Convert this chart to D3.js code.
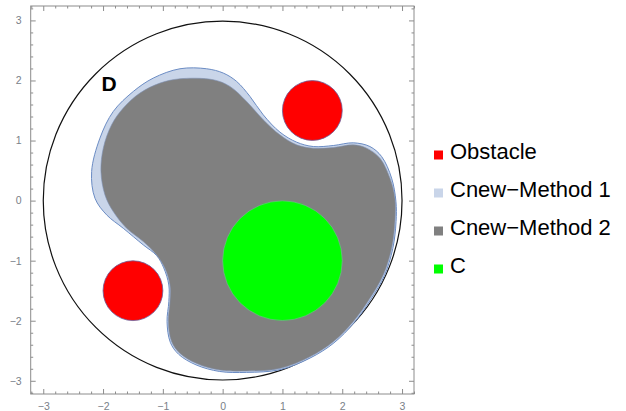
<!DOCTYPE html>
<html>
<head>
<meta charset="utf-8">
<script src="https://cdn.jsdelivr.net/npm/d3@7"></script>
<style>
  html, body { margin: 0; padding: 0; background: #fff; }
  svg { display: block; }
  text { font-family: "Liberation Sans", Arial, sans-serif; }
</style>
</head>
<body>
<svg id="chart" width="626" height="411"></svg>
<script>
// Domain D: disk centred at origin
const domainDisk = { cx: 0, cy: 0, r: 3 };

// Obstacles (discs)
const obstacles = [
  { cx: 1.5, cy: 1.5, r: 0.5 },
  { cx: -1.5, cy: -1.5, r: 0.5 }
];

// Initial configuration C
const regionC = { cx: 1, cy: -1, r: 1 };

// Boundary of Cnew computed with method 1
const cnewMethod1 = [
  [-0.714, 2.195], [-0.268, 2.195], [0.011, 2.123], [0.234, 1.984], [0.457, 1.734],
  [0.679, 1.428], [0.958, 1.140], [1.237, 0.973], [1.516, 0.900], [1.850, 0.917],
  [2.184, 0.962], [2.463, 0.900], [2.658, 0.734], [2.826, 0.373], [2.898, -0.016],
  [2.900, -0.350], [2.845, -0.800], [2.705, -1.250], [2.480, -1.640], [2.200, -2.030],
  [1.860, -2.370], [1.465, -2.620], [0.960, -2.815], [0.400, -2.860], [-0.050, -2.845],
  [-0.445, -2.735], [-0.735, -2.560], [-0.875, -2.360], [-0.930, -2.016], [-0.900, -1.683],
  [-0.900, -1.405], [-0.985, -1.120], [-1.104, -0.915], [-1.327, -0.738], [-1.662, -0.461],
  [-1.940, -0.238], [-2.135, 0.039], [-2.191, 0.484], [-2.052, 1.040], [-1.829, 1.484],
  [-1.494, 1.817], [-1.160, 2.040]
];

// Boundary of Cnew computed with method 2
const cnewMethod2 = [
  [-0.714, 2.028], [-0.157, 2.012], [0.122, 1.901], [0.401, 1.651], [0.679, 1.345],
  [0.958, 1.095], [1.237, 0.928], [1.516, 0.873], [1.850, 0.884], [2.184, 0.928],
  [2.408, 0.873], [2.630, 0.706], [2.798, 0.373], [2.881, 0.039], [2.881, -0.350],
  [2.826, -0.794], [2.686, -1.238], [2.463, -1.627], [2.184, -2.016], [1.850, -2.350],
  [1.460, -2.600], [0.958, -2.794], [0.401, -2.838], [-0.045, -2.822], [-0.435, -2.711],
  [-0.714, -2.544], [-0.853, -2.350], [-0.909, -2.016], [-0.881, -1.683], [-0.881, -1.405],
  [-0.965, -1.127], [-1.104, -0.905], [-1.327, -0.683], [-1.606, -0.461], [-1.829, -0.183],
  [-1.968, 0.095], [-2.035, 0.484], [-1.996, 0.873], [-1.857, 1.262], [-1.662, 1.540],
  [-1.383, 1.790], [-1.048, 1.956]
];

const majorTicks = [-3, -2, -1, 0, 1, 2, 3];
const legendLabels = ["Obstacle", "Cnew\u2212Method 1", "Cnew\u2212Method 2", "C"];
const legendColors = ["#ff0000", "#c9d5e9", "#808080", "#00ff00"];

const svg = d3.select("#chart");

const x = d3.scaleLinear().domain([-3.21, 3.2]).range([30.7, 414]);
const y = d3.scaleLinear().domain([-3.22, 3.24]).range([394, 6]);
const rpx = r => x(r) - x(0);

const plot = svg.append("g");

// Domain boundary
plot.append("circle")
  .attr("cx", x(domainDisk.cx)).attr("cy", y(domainDisk.cy)).attr("r", rpx(domainDisk.r))
  .attr("fill", "none").attr("stroke", "#111").attr("stroke-width", 1.2);

const shape = d3.line().x(d => x(d[0])).y(d => y(d[1])).curve(d3.curveCatmullRomClosed.alpha(0.5));

plot.append("path")
  .attr("d", shape(cnewMethod1))
  .attr("fill", legendColors[1]).attr("stroke", "#6b8cc4").attr("stroke-width", 1);

plot.append("path")
  .attr("d", shape(cnewMethod2))
  .attr("fill", legendColors[2]).attr("stroke", "#7d90b4").attr("stroke-width", 0.6);

plot.selectAll("circle.obstacle").data(obstacles).join("circle")
  .attr("class", "obstacle")
  .attr("cx", d => x(d.cx)).attr("cy", d => y(d.cy)).attr("r", d => rpx(d.r))
  .attr("fill", legendColors[0]).attr("stroke", "#6a5f9a").attr("stroke-width", 0.8);

plot.append("circle")
  .attr("cx", x(regionC.cx)).attr("cy", y(regionC.cy)).attr("r", rpx(regionC.r))
  .attr("fill", legendColors[3]).attr("stroke", "#7fb0a0").attr("stroke-width", 0.6);

plot.append("text")
  .attr("x", x(-1.9)).attr("y", y(1.82))
  .attr("text-anchor", "middle")
  .attr("font-size", 21).attr("font-weight", "bold").attr("fill", "#000")
  .text("D");

// Frame with inward ticks on all four sides
const frameColor = "#8c8c8c";
const minorTicks = d3.range(-32, 33, 2).map(v => v / 10).filter(v => !majorTicks.includes(v));
const axes = svg.append("g");

const fmt = v => (v < 0 ? "\u2212" + Math.abs(v) : String(v));

function tickAxis(axisGen, scale, transform, majorLen, labels) {
  const gMinor = axes.append("g").attr("transform", transform)
    .call(axisGen(scale).tickValues(minorTicks.filter(v => v >= scale.domain()[0] && v <= scale.domain()[1]))
      .tickSize(-2.5).tickFormat(""));
  gMinor.select(".domain").remove();
  gMinor.selectAll("line").attr("stroke", frameColor);
  const gMajor = axes.append("g").attr("transform", transform)
    .call(axisGen(scale).tickValues(majorTicks).tickSize(-5).tickPadding(labels ? 9 : 0)
      .tickFormat(labels ? fmt : ""));
  gMajor.select(".domain").remove();
  gMajor.selectAll("line").attr("stroke", frameColor);
  gMajor.selectAll("text").attr("fill", "#7a7f88").attr("font-size", 10.5)
    .attr("font-family", "'Liberation Sans', Arial, sans-serif");
}

tickAxis(d3.axisBottom, x, `translate(0,${y.range()[0]})`, 5, true);
tickAxis(d3.axisTop, x, `translate(0,${y.range()[1]})`, 5, false);
tickAxis(d3.axisLeft, y, `translate(${x.range()[0]},0)`, 5, true);
tickAxis(d3.axisRight, y, `translate(${x.range()[1]},0)`, 5, false);

axes.append("rect")
  .attr("x", x.range()[0]).attr("y", y.range()[1])
  .attr("width", x.range()[1] - x.range()[0]).attr("height", y.range()[0] - y.range()[1])
  .attr("fill", "none").attr("stroke", frameColor).attr("stroke-width", 1);

// Legend
const legend = svg.append("g").attr("transform", "translate(434,159)");
const rows = legend.selectAll("g").data(legendLabels).join("g")
  .attr("transform", (d, i) => `translate(0,${i * 38})`);
rows.append("rect")
  .attr("x", 0).attr("y", -8.5).attr("width", 9).attr("height", 9)
  .attr("fill", (d, i) => legendColors[i]);
rows.append("text")
  .attr("x", 16).attr("y", 0)
  .attr("font-size", 22).attr("fill", "#000")
  .text(d => d);
</script>
</body>
</html>
